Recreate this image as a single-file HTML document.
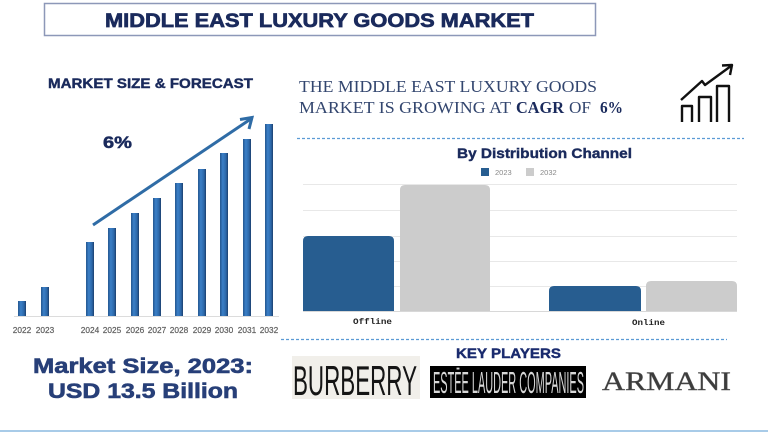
<!DOCTYPE html>
<html>
<head>
<meta charset="utf-8">
<style>
  html,body{margin:0;padding:0;background:#fff;}
  svg{display:block;}
</style>
</head>
<body>
<svg width="768" height="432" viewBox="0 0 768 432" xmlns="http://www.w3.org/2000/svg">
  <defs>
    <linearGradient id="bg" x1="0" y1="0" x2="1" y2="0">
      <stop offset="0" stop-color="#24568f"/>
      <stop offset="0.35" stop-color="#3b80c8"/>
      <stop offset="0.75" stop-color="#2c67a8"/>
      <stop offset="1" stop-color="#1b3f6e"/>
    </linearGradient>
  </defs>
  <rect x="0" y="0" width="768" height="432" fill="#ffffff"/>

  <!-- Title box -->
  <rect x="44.5" y="3.5" width="551" height="32" fill="#fff" stroke="#8d98b8" stroke-width="1.5"/>
  <text x="105" y="27" font-family="Liberation Sans, sans-serif" font-weight="bold" font-size="19.5" fill="#1a2a5c" stroke="#1a2a5c" stroke-width="0.7" textLength="429" lengthAdjust="spacingAndGlyphs">MIDDLE EAST LUXURY GOODS MARKET</text>

  <!-- Left section -->
  <text x="48" y="88" font-family="Liberation Sans, sans-serif" font-weight="bold" font-size="13.5" fill="#1a2a5c" stroke="#1a2a5c" stroke-width="0.4" textLength="205" lengthAdjust="spacingAndGlyphs">MARKET SIZE &amp; FORECAST</text>
  <text x="103" y="148" font-family="Liberation Sans, sans-serif" font-weight="bold" font-size="17" fill="#1a2a5c" stroke="#1a2a5c" stroke-width="0.5" textLength="29" lengthAdjust="spacingAndGlyphs">6%</text>

  <!-- baseline -->
  <line x1="14" y1="316.5" x2="279" y2="316.5" stroke="#dcdcdc" stroke-width="1"/>

  <!-- bars -->
  <g fill="url(#bg)">
    <rect x="18" y="301" width="8" height="15"/>
    <rect x="41" y="287" width="8" height="29"/>
    <rect x="86" y="242" width="8" height="74"/>
    <rect x="108" y="228" width="8" height="88"/>
    <rect x="131" y="213" width="8" height="103"/>
    <rect x="153" y="198" width="8" height="118"/>
    <rect x="175" y="183" width="8" height="133"/>
    <rect x="198" y="169" width="8" height="147"/>
    <rect x="220" y="153" width="8" height="163"/>
    <rect x="243" y="139" width="8" height="177"/>
    <rect x="265" y="124" width="8" height="192"/>
  </g>

  <!-- arrow -->
  <line x1="93" y1="225" x2="250" y2="119.5" stroke="#2f6ca6" stroke-width="3"/>
  <polyline points="240,119.5 252,117.5 249,129" fill="none" stroke="#2f6ca6" stroke-width="3" stroke-linejoin="miter"/>

  <!-- year labels -->
  <g font-family="Liberation Sans, sans-serif" font-size="8.3" fill="#5f5f5f" stroke="#5f5f5f" stroke-width="0.2" text-anchor="middle">
    <text x="22" y="333">2022</text>
    <text x="45" y="333">2023</text>
    <text x="90" y="333">2024</text>
    <text x="112" y="333">2025</text>
    <text x="135" y="333">2026</text>
    <text x="157" y="333">2027</text>
    <text x="179" y="333">2028</text>
    <text x="202" y="333">2029</text>
    <text x="224" y="333">2030</text>
    <text x="247" y="333">2031</text>
    <text x="269" y="333">2032</text>
  </g>

  <text x="33" y="373" font-family="Liberation Sans, sans-serif" font-weight="bold" font-size="21" fill="#273f78" stroke="#273f78" stroke-width="0.6" textLength="220" lengthAdjust="spacingAndGlyphs">Market Size, 2023:</text>
  <text x="48" y="398" font-family="Liberation Sans, sans-serif" font-weight="bold" font-size="21" fill="#273f78" stroke="#273f78" stroke-width="0.6" textLength="190" lengthAdjust="spacingAndGlyphs">USD 13.5 Billion</text>

  <!-- Right headline -->
  <text x="299" y="92" font-family="Liberation Serif, serif" font-size="16.5" fill="#33466f" textLength="298" lengthAdjust="spacingAndGlyphs">THE MIDDLE EAST LUXURY GOODS</text>
  <text x="299" y="113" font-family="Liberation Serif, serif" font-size="16.5" fill="#33466f" textLength="212" lengthAdjust="spacingAndGlyphs">MARKET IS GROWING AT</text>
  <text x="516" y="113" font-family="Liberation Serif, serif" font-weight="bold" font-size="16.5" fill="#1a2a5c" textLength="48" lengthAdjust="spacingAndGlyphs">CAGR</text>
  <text x="569" y="113" font-family="Liberation Serif, serif" font-size="16.5" fill="#33466f" textLength="22" lengthAdjust="spacingAndGlyphs">OF</text>
  <text x="600" y="113" font-family="Liberation Serif, serif" font-weight="bold" font-size="16.5" fill="#1a2a5c" textLength="23" lengthAdjust="spacingAndGlyphs">6%</text>

  <!-- icon -->
  <g fill="none" stroke="#111" stroke-width="2.4" stroke-linejoin="round">
    <path d="M682,122 V106 H692 V122"/>
    <path d="M699,122 V97 H711 V122"/>
    <path d="M717,122 V86 H729 V122"/>
    <path d="M681,100 L702,81 L705,85 L731,66"/>
    <polyline points="722,65.5 732,65 730,75"/>
  </g>

  <!-- dashed line 1 -->
  <line x1="297" y1="138.5" x2="744" y2="138.5" stroke="#5b9bd5" stroke-width="1.2" stroke-dasharray="3 2"/>

  <!-- Distribution chart -->
  <text x="457" y="158" font-family="Liberation Sans, sans-serif" font-weight="bold" font-size="14" fill="#1a2a5c" stroke="#1a2a5c" stroke-width="0.4" textLength="175" lengthAdjust="spacingAndGlyphs">By Distribution Channel</text>
  <rect x="481" y="168" width="8" height="8" fill="#275d90"/>
  <text x="495" y="175" font-family="Liberation Sans, sans-serif" font-size="7.5" fill="#888">2023</text>
  <rect x="526" y="168" width="8" height="8" fill="#cccccc"/>
  <text x="540" y="175" font-family="Liberation Sans, sans-serif" font-size="7.5" fill="#888">2032</text>

  <g stroke="#e8e8e8" stroke-width="1">
    <line x1="303" y1="184.5" x2="737" y2="184.5"/>
    <line x1="303" y1="210.5" x2="737" y2="210.5"/>
    <line x1="303" y1="236.5" x2="737" y2="236.5"/>
    <line x1="303" y1="261.5" x2="737" y2="261.5"/>
    <line x1="303" y1="286.5" x2="737" y2="286.5"/>
  </g>
  <line x1="303" y1="311.5" x2="737" y2="311.5" stroke="#d8d8d8" stroke-width="1"/>

  <path d="M303,311 V241 Q303,236 308,236 H389 Q394,236 394,241 V311 Z" fill="#275d90"/>
  <path d="M400,311 V190 Q400,185 405,185 H485 Q490,185 490,190 V311 Z" fill="#cccccc"/>
  <path d="M549,311 V291 Q549,286 554,286 H636 Q641,286 641,291 V311 Z" fill="#275d90"/>
  <path d="M646,311 V286 Q646,281 651,281 H732 Q737,281 737,286 V311 Z" fill="#cccccc"/>

  <text x="353" y="324" font-family="Liberation Mono, monospace" font-weight="bold" font-size="8" fill="#222" textLength="39" lengthAdjust="spacingAndGlyphs">Offline</text>
  <text x="632" y="325" font-family="Liberation Mono, monospace" font-weight="bold" font-size="8" fill="#222" textLength="33" lengthAdjust="spacingAndGlyphs">Online</text>

  <!-- dashed line 2 -->
  <line x1="281" y1="339.5" x2="727" y2="339.5" stroke="#5b9bd5" stroke-width="1.2" stroke-dasharray="3 2"/>

  <!-- Key players -->
  <text x="456" y="358" font-family="Liberation Sans, sans-serif" font-weight="bold" font-size="13.5" fill="#1a2b6e" stroke="#1a2b6e" stroke-width="0.4" textLength="105" lengthAdjust="spacingAndGlyphs">KEY PLAYERS</text>

  <rect x="292" y="356" width="128" height="43" fill="#f1efea"/>
  <text x="293" y="395" font-family="Liberation Sans, sans-serif" font-size="42" fill="#151515" textLength="124" lengthAdjust="spacingAndGlyphs">BURBERRY</text>

  <rect x="430" y="366" width="156" height="32" fill="#000"/>
  <text x="433" y="393" font-family="Liberation Sans, sans-serif" font-size="31" fill="#d8d8d8" textLength="151" lengthAdjust="spacingAndGlyphs">ESTĒE LAUDER COMPANIES</text>

  <text x="602" y="390" font-family="Liberation Serif, serif" font-size="26.5" fill="#3c3c3c" stroke="#555" stroke-width="0.4" textLength="129" lengthAdjust="spacingAndGlyphs">ARMANI</text>

  <!-- bottom line -->
  <line x1="0" y1="431" x2="768" y2="431" stroke="#a8cbe8" stroke-width="2"/>
</svg>
</body>
</html>
